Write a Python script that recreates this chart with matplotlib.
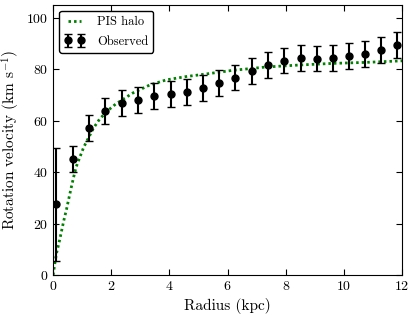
import numpy as np
import matplotlib
matplotlib.use('Agg')
import matplotlib.pyplot as plt

# fonts: computer modern look
plt.rcParams['font.family'] = 'serif'
plt.rcParams['font.serif'] = ['cmr10', 'DejaVu Serif']
plt.rcParams['mathtext.fontset'] = 'cm'
plt.rcParams['axes.unicode_minus'] = False
plt.rcParams['axes.formatter.use_mathtext'] = True

# --------------------- data ---------------------
# observed rotation curve
r_obs = [0.1, 0.67, 1.24, 1.80, 2.36, 2.92, 3.48, 4.04, 4.61, 5.17, 5.72,
         6.27, 6.83, 7.39, 7.95, 8.52, 9.08, 9.64, 10.18, 10.71, 11.28, 11.84]
v_obs = [27.5, 45.1, 57.0, 63.6, 66.7, 68.1, 69.4, 70.2, 71.2, 72.7, 74.5,
         76.7, 79.2, 81.5, 83.3, 84.2, 84.1, 84.3, 85.0, 85.9, 87.3, 89.4]
v_err = [22.0, 5.0, 5.0, 5.0, 5.0, 5.0, 5.0, 5.0, 5.0, 5.0, 5.0,
         5.0, 5.0, 5.0, 5.0, 5.0, 5.0, 5.0, 5.0, 5.0, 5.0, 5.0]

# PIS halo model curve
r_fit = [0.0, 0.06, 0.12, 0.21, 0.29, 0.37, 0.46, 0.54, 0.62, 0.70, 0.79,
         0.92, 1.05, 1.24, 1.39, 1.60, 1.87, 2.15, 2.74, 3.32, 3.89, 4.58,
         5.20, 6.17, 7.32, 8.50, 9.60, 10.75, 12.0]
v_fit = [0.0, 4.6, 8.6, 12.9, 17.1, 21.3, 25.5, 29.7, 33.8, 37.8, 41.9,
         45.8, 49.6, 53.8, 57.1, 60.6, 63.8, 66.4, 70.7, 73.8, 75.8, 77.1,
         78.0, 79.5, 80.8, 81.6, 82.2, 82.6, 83.2]

f_size = 11

# --------------------- plot ---------------------
fig = plt.figure(figsize=(4.15, 3.15), dpi=100)
ax = fig.add_axes([0.128, 0.127, 0.841, 0.858])

ax.plot(r_fit, v_fit, color='g', linewidth=2.0, dashes=(0.9, 1.1),
        label='PIS halo')
ax.errorbar(r_obs, v_obs, yerr=v_err, fmt='o', color='k', ecolor='k',
            markersize=5, elinewidth=1.5, capsize=3, capthick=1,
            label='Observed')

ax.set_xlim(0, 12)
ax.set_ylim(0, 105)
ax.set_xticks([0, 2, 4, 6, 8, 10, 12])
ax.set_yticks([0, 20, 40, 60, 80, 100])
ax.tick_params(direction='in', top=True, right=True, labelsize=10, length=4)

ax.set_xlabel('Radius (kpc)', fontsize=f_size)
ax.set_ylabel(r'Rotation velocity (km s$^{-1}$)', fontsize=f_size)
ax.yaxis.set_label_coords(-0.088, 0.5)

leg = ax.legend(loc='upper left', numpoints=2, fontsize=9, fancybox=True,
                framealpha=1, handlelength=1.6, handletextpad=1.0,
                labelspacing=0.6, borderaxespad=0.5)
leg.get_frame().set_edgecolor('k')

fig.savefig('out.png', dpi=100)
